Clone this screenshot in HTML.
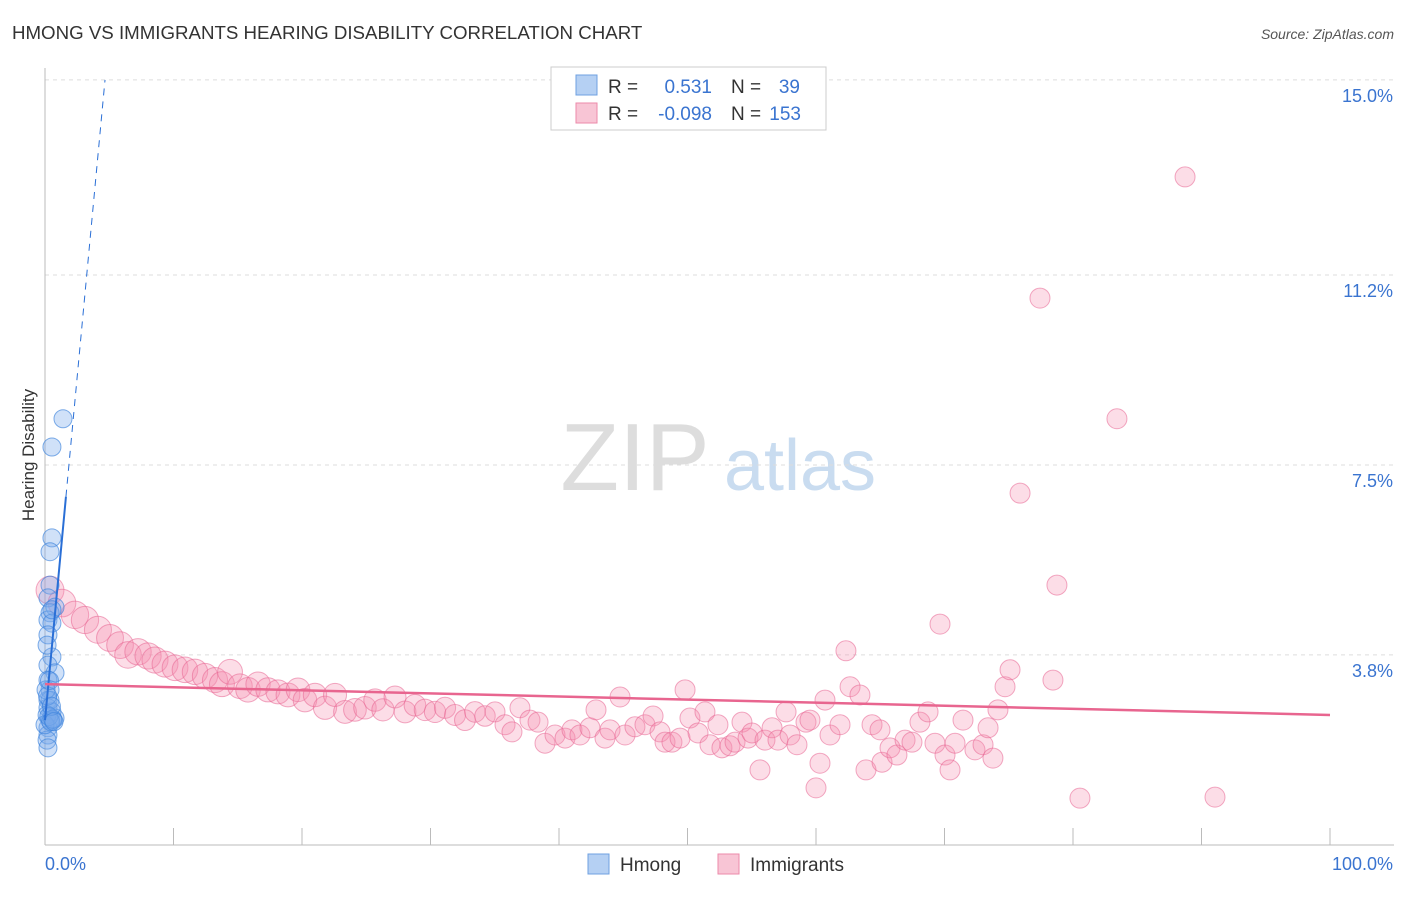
<!DOCTYPE html>
<html><head><meta charset="utf-8"><style>
body{margin:0;background:#fff;font-family:"Liberation Sans",sans-serif;}
svg text{font-family:"Liberation Sans",sans-serif;}
</style></head><body>
<svg id="chart" width="1406" height="892" xmlns="http://www.w3.org/2000/svg">
<text x="12" y="39" font-size="18.7" fill="#333">HMONG VS IMMIGRANTS HEARING DISABILITY CORRELATION CHART</text>
<text x="1394" y="39" font-size="14" fill="#555" font-style="italic" text-anchor="end">Source: ZipAtlas.com</text>
<g>
<text x="635" y="490" font-size="96" fill="#ddd" font-family="Liberation Serif" text-anchor="middle">ZIP</text>
<text x="800" y="490" font-size="72" fill="#c9dcf0" text-anchor="middle">atlas</text>
</g>
<g id="grid"></g>
<g id="axes"></g>
<g id="imm"></g>
<g id="hm"></g>
<g id="trends"></g>
<text x="34" y="455" font-size="17" fill="#333" text-anchor="middle" transform="rotate(-90 34 455)">Hearing Disability</text>
<g>
<rect x="551" y="67" width="275" height="63" fill="#fff" stroke="#ccc"/>
<rect x="576" y="75" width="21" height="20" fill="#b5d0f3" stroke="#6fa0e0"/>
<rect x="576" y="103" width="21" height="20" fill="#f8c5d5" stroke="#ec8aaa"/>
<text x="608" y="93" font-size="19" fill="#333">R =</text><text x="712" y="93" font-size="19" fill="#3a74d0" text-anchor="end">0.531</text>
<text x="731" y="93" font-size="19" fill="#333">N =</text><text x="800" y="93" font-size="19" fill="#3a74d0" text-anchor="end">39</text>
<text x="608" y="120" font-size="19" fill="#333">R =</text><text x="712" y="120" font-size="19" fill="#3a74d0" text-anchor="end">-0.098</text>
<text x="731" y="120" font-size="19" fill="#333">N =</text><text x="801" y="120" font-size="19" fill="#3a74d0" text-anchor="end">153</text>
</g>
<g>
<rect x="588" y="854" width="21" height="20" fill="#b5d0f3" stroke="#6fa0e0"/>
<text x="620" y="871" font-size="19" fill="#333">Hmong</text>
<rect x="718" y="854" width="21" height="20" fill="#f8c5d5" stroke="#ec8aaa"/>
<text x="750" y="871" font-size="19" fill="#333">Immigrants</text>
</g>
</svg>
<script>
const yTicks=[3.8,7.5,11.2,15.0];
const yTickLabels=["3.8%","7.5%","11.2%","15.0%"];
const xTickLabels=["0.0%","100.0%"];
const hmX=[1.40,0.54,0.54,0.39,0.39,0.23,0.78,0.39,0.23,0.54,0.23,0.54,0.23,0.78,0.23,0.39,0.23,0.23,0.54,0.78,0.39,0.23,0.23,0.16,0.23,0.54,0.16,0.39,0.16,0.62,0.08,0.0,0.3,0.45,0.6,0.2,0.35,0.5,0.7];
const hmY=[8.40,7.85,6.08,5.81,5.16,4.91,4.73,4.62,4.48,4.42,4.19,3.76,3.60,3.45,3.31,3.12,2.92,2.77,2.69,2.57,2.53,2.38,2.24,2.14,1.99,4.68,3.99,2.92,2.63,2.53,3.12,2.44,2.6,2.5,2.55,3.0,3.3,2.8,2.5];
const imX=[0.39,1.32,2.33,3.11,4.12,5.06,5.84,6.46,7.24,8.02,8.56,9.34,10.12,10.89,11.67,12.45,13.23,13.77,14.40,15.17,15.80,16.58,17.35,18.13,18.91,19.69,20.23,21.01,21.79,22.57,23.35,24.12,24.90,25.68,26.30,27.24,28.02,28.79,29.57,30.35,31.13,31.91,32.68,33.46,34.24,35.02,35.80,36.34,36.96,37.74,38.37,38.91,39.69,40.47,41.01,41.63,42.41,42.88,43.58,43.97,44.75,45.14,45.91,46.69,47.32,47.86,48.25,48.79,49.42,49.81,50.19,50.82,51.36,51.75,52.37,52.68,53.31,53.70,54.24,54.71,55.02,55.64,56.03,56.58,57.04,57.67,57.98,58.52,59.22,59.53,60.0,60.31,60.70,61.09,61.87,62.33,62.65,63.42,63.89,64.36,64.98,65.14,65.76,66.30,66.93,67.47,68.09,68.72,69.26,69.65,70.04,70.43,70.82,71.44,72.37,73.0,73.39,73.77,74.16,74.71,75.10,75.88,77.43,78.44,78.75,80.54,83.42,88.72,91.05];
const imY=[5.06,4.81,4.58,4.48,4.29,4.13,3.99,3.80,3.86,3.78,3.70,3.62,3.55,3.51,3.47,3.39,3.31,3.23,3.47,3.19,3.12,3.23,3.12,3.08,3.02,3.12,2.92,3.02,2.77,3.02,2.69,2.73,2.77,2.92,2.73,2.98,2.69,2.82,2.73,2.69,2.77,2.63,2.53,2.69,2.61,2.69,2.44,2.30,2.77,2.53,2.49,2.08,2.24,2.18,2.34,2.24,2.38,2.73,2.18,2.34,2.98,2.24,2.40,2.44,2.61,2.30,2.10,2.10,2.18,3.12,2.57,2.28,2.69,2.05,2.44,1.99,2.03,2.10,2.49,2.18,2.28,1.56,2.14,2.38,2.14,2.69,2.24,2.05,2.49,2.53,1.21,1.69,2.92,2.24,2.44,3.88,3.18,3.02,1.56,2.44,2.34,1.71,1.99,1.85,2.14,2.10,2.49,2.69,2.08,4.40,1.85,1.56,2.08,2.53,1.95,2.05,2.38,1.79,2.73,3.18,3.51,6.95,10.75,3.31,5.16,1.01,8.40,13.11,1.03];
const hmTrend=[2.53,2.67]; // intercept, slope
const imTrend=[3.23,-0.006];
const NS="http://www.w3.org/2000/svg";
const X=v=>45+v*12.85, Y=v=>850-v*51.34;
function mk(t,a,p){const e=document.createElementNS(NS,t);for(const k in a)e.setAttribute(k,a[k]);p.appendChild(e);return e;}
const grid=document.getElementById('grid'),axes=document.getElementById('axes');
yTicks.forEach((t,i)=>{
 const l=mk('line',{x1:45,x2:1394,y1:Y(t),y2:Y(t),stroke:'#ddd','stroke-dasharray':'4,4'},grid);
 
 
 const tx=mk('text',{x:1393,y:Y(t)+22,'font-size':18,fill:'#3a74d0','text-anchor':'end'},axes);
 tx.textContent=yTickLabels[i];
 
 
});
mk('line',{x1:45,x2:45,y1:68,y2:845,stroke:'#bbb'},axes);
mk('line',{x1:45,x2:1394,y1:845,y2:845,stroke:'#bbb'},axes);
for(let i=0;i<=10;i++){const t=mk('line',{x1:X(i*10),x2:X(i*10),y1:828,y2:845,stroke:'#bbb'},axes);
 
 }
[[0,'start',45],[100,'end',1393]].forEach((d,i)=>{const t=mk('text',{x:d[2],y:870,'font-size':18,fill:'#3a74d0','text-anchor':d[1]},axes);t.textContent=xTickLabels[i];
 
 });
const imm=document.getElementById('imm');
imX.forEach((x,i)=>{const r=x<35?14-x*0.11:10;
 const c=mk('circle',{cx:X(x),cy:Y(imY[i]),r:r,fill:'rgba(244,143,177,0.3)',stroke:'rgba(232,100,145,0.55)','stroke-width':1},imm);
 
 });
const hm=document.getElementById('hm');
hmX.forEach((x,i)=>{const c=mk('circle',{cx:X(x),cy:Y(hmY[i]),r:9,fill:'rgba(120,170,235,0.35)',stroke:'rgba(60,130,220,0.65)','stroke-width':1},hm);
 
 });
const tr=document.getElementById('trends');
const hx1=1.63,hx2=(15-hmTrend[0])/hmTrend[1];
const l1=mk('line',{x1:X(0),y1:Y(hmTrend[0]),x2:X(hx1),y2:Y(hmTrend[0]+hmTrend[1]*hx1),stroke:'#2a6fd6','stroke-width':2},tr);


const l2=mk('line',{x1:X(hx1),y1:Y(hmTrend[0]+hmTrend[1]*hx1),x2:X(hx2),y2:Y(15),stroke:'#2a6fd6','stroke-width':1,'stroke-dasharray':'7,6'},tr);


const l3=mk('line',{x1:X(0),y1:Y(imTrend[0]),x2:X(100),y2:Y(imTrend[0]+imTrend[1]*100),stroke:'#e8658f','stroke-width':2.5},tr);


</script>
</body></html>
